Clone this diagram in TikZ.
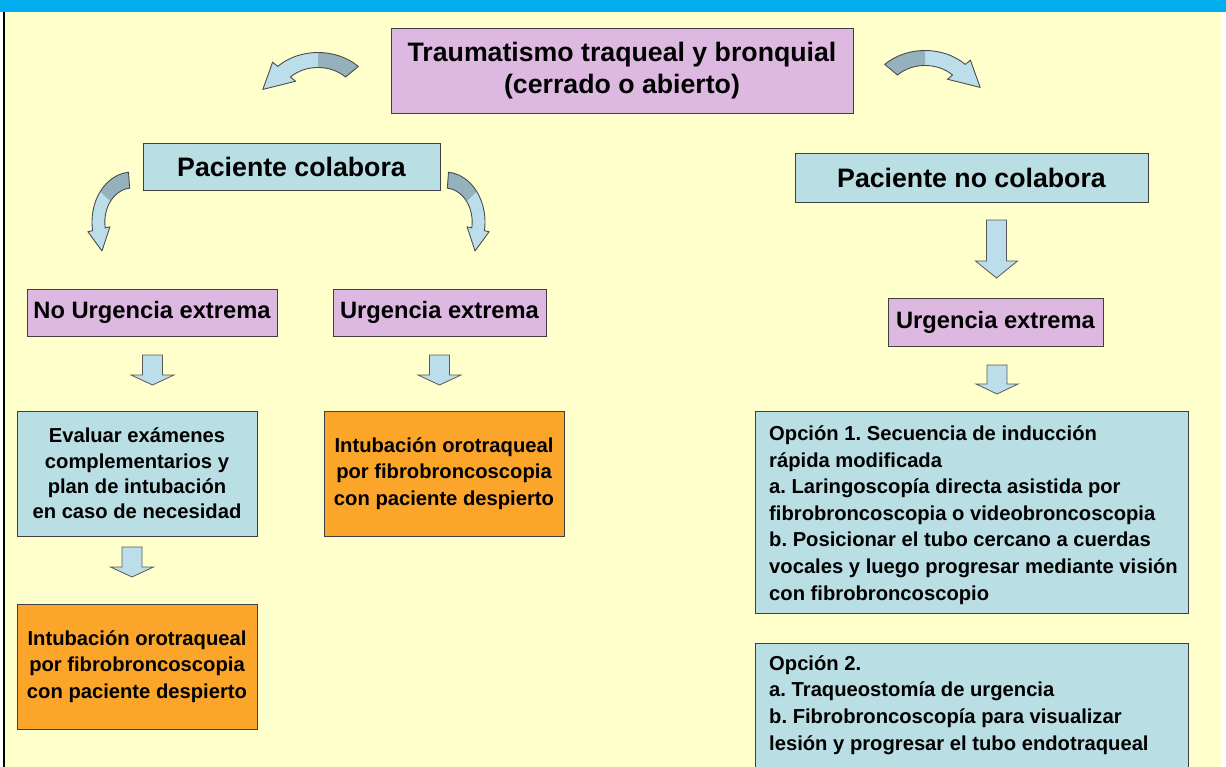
\documentclass[tikz,border=0pt]{standalone}
\usepackage{fontspec}
\setmainfont{Liberation Sans}
\frenchspacing
\definecolor{cream}{HTML}{FFFFCC}
\definecolor{topblue}{HTML}{00AEEF}
\definecolor{lav}{HTML}{DDB9E1}
\definecolor{lblue}{HTML}{B9DEE4}
\definecolor{orng}{HTML}{FBA52A}
\definecolor{arrlight}{HTML}{BCDDEA}
\definecolor{arrdark}{HTML}{95B2BC}
\newcommand\myfs[2]{\fontsize{#1}{#2}\selectfont}
% curved ribbon arrow: cx, cy, xscale, R, h, a1 (tail), a2 (head base), L (head length)
\newcommand\curvedarrow[8]{%
 \begin{scope}[shift={(#1,#2)}, yscale=-1, xscale=#3]
  \pgfmathsetmacro\cRo{#4+#5}\pgfmathsetmacro\cRi{#4-#5}%
  \pgfmathsetmacro\cHo{#4+#5+6}\pgfmathsetmacro\cHi{#4-#5-6}%
  \pgfmathsetmacro\cTd{(#7>#6) ? #7+90 : #7-90}%
  \pgfmathsetmacro\cAm{(#6+#7)/2}%
  \pgfmathsetmacro\cTx{#4*cos(#7)+#8*cos(\cTd)}%
  \pgfmathsetmacro\cTy{#4*sin(#7)+#8*sin(\cTd)}%
  \fill[arrlight] (#6:\cRo) arc[start angle=#6,end angle=#7,radius=\cRo] -- (#7:\cHo) -- (\cTx,\cTy) -- (#7:\cHi) -- (#7:\cRi) arc[start angle=#7,end angle=#6,radius=\cRi] -- cycle;
  \fill[arrdark] (#6:\cRo) arc[start angle=#6,end angle=\cAm,radius=\cRo] -- (\cAm:\cRi) arc[start angle=\cAm,end angle=#6,radius=\cRi] -- cycle;
  \draw[black!70, line width=0.9pt, line join=round] (#6:\cRo) arc[start angle=#6,end angle=#7,radius=\cRo] -- (#7:\cHo) -- (\cTx,\cTy) -- (#7:\cHi) -- (#7:\cRi) arc[start angle=#7,end angle=#6,radius=\cRi] -- cycle;
 \end{scope}}
% straight block arrow down: cx, top, shaft half, head base y, head half, tip y
\newcommand\dnarr[6]{%
 \draw[blockarrow] ({#1-#3},#2) -- ({#1+#3},#2) -- ({#1+#3},#4) -- ({#1+#5},#4) -- (#1,#6) -- ({#1-#5},#4) -- ({#1-#3},#4) -- cycle;}
\begin{document}
\begin{tikzpicture}[x=1pt,y=-1pt,
 box/.style={draw=black!75, line width=0.9pt, inner sep=0pt, outer sep=0pt},
 lavbox/.style={box, fill=lav},
 bluebox/.style={box, fill=lblue},
 orbox/.style={box, fill=orng},
 bigtxt/.style={font=\myfs{26.7}{32}\bfseries},
 midtxt/.style={font=\myfs{23.7}{28}\bfseries},
 smalltxt/.style={font=\myfs{20.2}{26.5}\bfseries},
 blockarrow/.style={draw=black!65, line width=0.8pt, fill=arrlight, line join=miter}]
\useasboundingbox (0,0) rectangle (1226,767);
\fill[white] (0,0) rectangle (1226,767);
\fill[cream] (3,12) rectangle (1221,767);
\fill[topblue] (0,0) rectangle (1226,12);
\draw[black, line width=1.6pt] (3.8,12) -- (3.8,767);

% nodes
\node[lavbox, bigtxt, minimum width=462pt, minimum height=85pt, align=center] (title) at (622,70.5) {Traumatismo traqueal y bronquial\\(cerrado o abierto)};
\node[bluebox, bigtxt, minimum width=297pt, minimum height=47pt] (pc) at (291.5,166.5) {Paciente colabora};
\node[bluebox, bigtxt, minimum width=353pt, minimum height=49pt] (pnc) at (971.5,177.5) {Paciente no colabora};
\node[lavbox, midtxt, minimum width=250pt, minimum height=47pt] (nue) at (152,312.5) {No Urgencia extrema};
\node[lavbox, midtxt, minimum width=213pt, minimum height=47pt] (ue) at (439.5,312.5) {Urgencia extrema};
\node[lavbox, midtxt, minimum width=215pt, minimum height=48pt] (ue2) at (995.5,322) {Urgencia extrema};
\node[bluebox, smalltxt, minimum width=240pt, minimum height=125pt, align=center, font=\myfs{20.2}{25.3}\bfseries] (eval) at (137,473.5) {Evaluar exámenes\\complementarios y\\plan de intubación\\en caso de necesidad};
\node[orbox, smalltxt, minimum width=240pt, minimum height=125pt, align=center] (int1) at (444,473.5) {Intubación orotraqueal\\por fibrobroncoscopia\\con paciente despierto};
\node[orbox, smalltxt, minimum width=240pt, minimum height=125pt, align=center] (int2) at (137,666.5) {Intubación orotraqueal\\por fibrobroncoscopia\\con paciente despierto};
\node[bluebox, minimum width=433pt, minimum height=202pt, anchor=north west] (op1) at (755,411) {};
\node[anchor=west, align=left, inner sep=0pt, font=\myfs{20.2}{26.6}\bfseries] (op1t) at ([xshift=14pt,yshift=-3pt]op1.west) {Opción 1. Secuencia de inducción\\rápida modificada\\a. Laringoscopía directa asistida por\\fibrobroncoscopia o videobroncoscopia\\b. Posicionar el tubo cercano a cuerdas\\vocales y luego progresar mediante visión\\con fibrobroncoscopio};
\node[bluebox, minimum width=433pt, minimum height=150pt, anchor=north west] (op2) at (755,643) {};
\node[anchor=north west, align=left, inner sep=0pt, font=\myfs{20.2}{26.8}\bfseries] (op2t) at ([xshift=14pt,yshift=-12pt]op2.north west) {Opción 2.\\a. Traqueostomía de urgencia\\b. Fibrobroncoscopía para visualizar\\lesión y progresar el tubo endotraqueal};

% curved arrows
\curvedarrow{318}{100}{1.2}{40}{7.5}{45}{135}{25}
\curvedarrow{925}{98}{1.2}{40}{7.5}{135}{45}{25}
\curvedarrow{132}{222}{0.8}{42}{8}{95}{190}{22}
\curvedarrow{445}{222}{0.8}{42}{8}{85}{-10}{22}

% block arrows
\dnarr{996.5}{220}{10}{261}{21}{278}
\dnarr{152.5}{355}{10}{375}{21.5}{385}
\dnarr{439.5}{355}{10}{375}{21.5}{385}
\dnarr{997}{365}{10}{384}{21}{394}
\dnarr{132}{547}{10}{567}{21.5}{577}
\end{tikzpicture}
\end{document}
